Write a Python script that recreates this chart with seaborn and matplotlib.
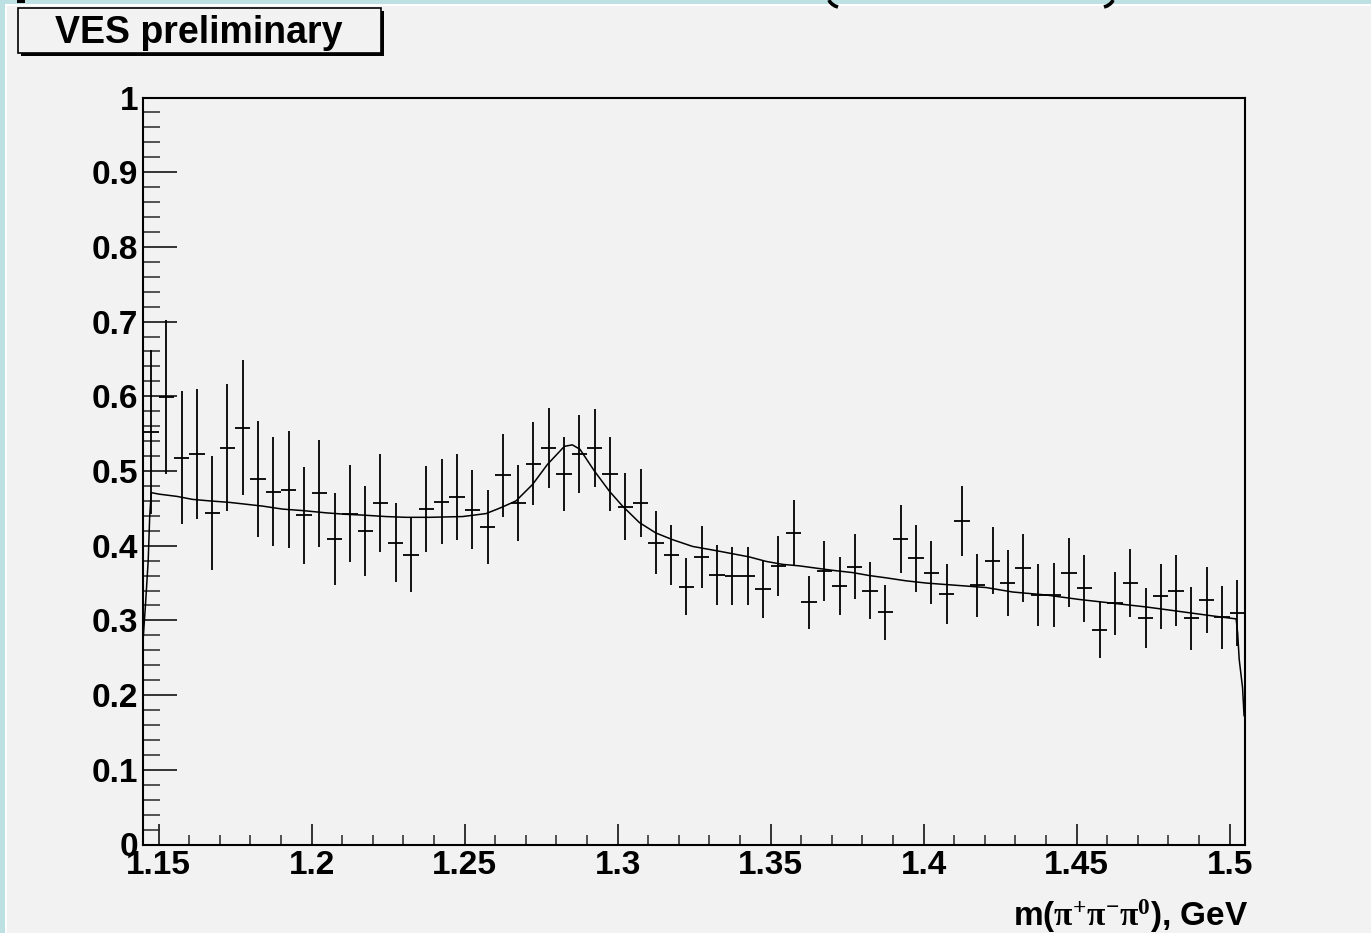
import numpy as np
import pandas as pd
import matplotlib
matplotlib.use("Agg")
import matplotlib.pyplot as plt
import seaborn as sns
from matplotlib.patches import Rectangle
from matplotlib.lines import Line2D
from matplotlib.ticker import MultipleLocator, FuncFormatter

# ---- histogram binning: m(pi+ pi- pi0) in GeV ----
bin_lo, bin_hi, n_bins = 1.145, 1.505, 72

# bin contents (ratio) and their statistical errors
ratio = [
    0.552, 0.599, 0.518, 0.523, 0.444, 0.531, 0.558, 0.489, 0.472, 0.475,
    0.441, 0.470, 0.409, 0.443, 0.420, 0.457, 0.404, 0.388, 0.449, 0.459,
    0.465, 0.448, 0.425, 0.494, 0.457, 0.510, 0.531, 0.496, 0.523, 0.531,
    0.496, 0.452, 0.457, 0.404, 0.388, 0.345, 0.385, 0.361, 0.359, 0.359,
    0.342, 0.373, 0.417, 0.324, 0.366, 0.346, 0.372, 0.340, 0.311, 0.409,
    0.383, 0.364, 0.335, 0.433, 0.347, 0.380, 0.350, 0.370, 0.334, 0.334,
    0.364, 0.343, 0.287, 0.323, 0.350, 0.303, 0.332, 0.340, 0.303, 0.327,
    0.304, 0.310,
]
ratio_err = [
    0.110, 0.103, 0.089, 0.087, 0.076, 0.085, 0.090, 0.078, 0.073, 0.078,
    0.065, 0.072, 0.061, 0.065, 0.060, 0.066, 0.053, 0.050, 0.058, 0.057,
    0.058, 0.053, 0.050, 0.056, 0.051, 0.055, 0.054, 0.050, 0.052, 0.052,
    0.050, 0.045, 0.046, 0.042, 0.040, 0.038, 0.041, 0.040, 0.039, 0.039,
    0.039, 0.040, 0.044, 0.036, 0.040, 0.039, 0.043, 0.038, 0.037, 0.045,
    0.045, 0.042, 0.040, 0.047, 0.042, 0.045, 0.044, 0.045, 0.042, 0.043,
    0.046, 0.045, 0.037, 0.042, 0.045, 0.040, 0.044, 0.047, 0.042, 0.044,
    0.042, 0.044,
]

# fitted function (background + resonance), sampled along the mass axis
fit_mass = [
    1.1448, 1.1457, 1.1466, 1.1471, 1.1476, 1.1502, 1.1560, 1.1611, 1.1666,
    1.1731, 1.1775, 1.1840, 1.1905, 1.1971, 1.2047, 1.2112, 1.2167, 1.2243,
    1.2308, 1.2385, 1.2493, 1.2570, 1.2619, 1.2668, 1.2722, 1.2771, 1.2826,
    1.2852, 1.2877, 1.2924, 1.2973, 1.3016, 1.3071, 1.3125, 1.3180, 1.3245,
    1.3327, 1.3430, 1.3485, 1.3539, 1.3594, 1.3648, 1.3703, 1.3768, 1.3823,
    1.3877, 1.3942, 1.4008, 1.4073, 1.4139, 1.4204, 1.4291, 1.4400, 1.4509,
    1.4618, 1.4727, 1.4836, 1.4944, 1.5021, 1.5026, 1.5031, 1.5042, 1.5047,
]
fit_value = [
    0.266, 0.320, 0.380, 0.440, 0.471, 0.469, 0.466, 0.462, 0.460,
    0.458, 0.456, 0.453, 0.449, 0.447, 0.444, 0.442, 0.441, 0.439,
    0.438, 0.438, 0.439, 0.443, 0.451, 0.460, 0.482, 0.509, 0.533,
    0.535, 0.529, 0.500, 0.473, 0.453, 0.431, 0.417, 0.408, 0.399,
    0.393, 0.385, 0.379, 0.375, 0.373, 0.370, 0.367, 0.364, 0.360,
    0.357, 0.353, 0.350, 0.348, 0.346, 0.344, 0.338, 0.334, 0.328,
    0.323, 0.318, 0.312, 0.306, 0.302, 0.283, 0.248, 0.210, 0.172,
]

x_major = [1.15, 1.2, 1.25, 1.3, 1.35, 1.4, 1.45, 1.5]
y_major = [0, 0.1, 0.2, 0.3, 0.4, 0.5, 0.6, 0.7, 0.8, 0.9, 1.0]

edges = np.linspace(bin_lo, bin_hi, n_bins + 1)
centers = 0.5 * (edges[:-1] + edges[1:])
half_width = 0.5 * (edges[1] - edges[0])

data = pd.DataFrame({"mass": centers, "ratio": ratio, "err": ratio_err})
fit = pd.DataFrame({"mass": fit_mass, "value": fit_value})

# ---- style ----
sns.set_theme(style="ticks")
plt.rcParams["font.family"] = ["Liberation Sans", "DejaVu Sans"]
plt.rcParams["font.weight"] = "bold"
plt.rcParams["mathtext.fontset"] = "custom"
plt.rcParams["mathtext.rm"] = "Liberation Serif"
plt.rcParams["mathtext.bf"] = "Liberation Sans:bold"
plt.rcParams["mathtext.it"] = "Liberation Serif"

W, H = 1371, 933
page = "#bde0e2"
panel = "#f2f2f2"

fig = plt.figure(figsize=(W / 100, H / 100), dpi=100, facecolor=page)


def px(x, y):
    """Pixel position (from the top-left corner) to figure fraction."""
    return x / W, 1 - y / H


# canvas panel with a light bevel on the top and left
fig.patches.append(Rectangle((5 / W, 0), 1, 1 - 4 / H, transform=fig.transFigure,
                             facecolor="white", edgecolor="none", zorder=-20))
fig.patches.append(Rectangle((7 / W, 0), 1, 1 - 6 / H, transform=fig.transFigure,
                             facecolor=panel, edgecolor="none", zorder=-19))

ax = fig.add_axes([143.3 / W, 1 - 844.5 / H, (1245 - 143.3) / W, (844.5 - 97.5) / H])
ax.set_facecolor(panel)

# data points with bin-width horizontal bars
ax.errorbar(data["mass"], data["ratio"], yerr=data["err"], xerr=half_width,
            fmt="none", ecolor="black", elinewidth=1.3, capsize=0, zorder=3)

# fit curve
sns.lineplot(data=fit, x="mass", y="value", ax=ax, color="black",
             linewidth=1.1, estimator=None, sort=False, zorder=4)

ax.set_xlim(bin_lo, bin_hi)
ax.set_ylim(0, 1)
ax.set_xlabel("")
ax.set_ylabel("")

ax.xaxis.set_major_locator(plt.FixedLocator(x_major))
ax.xaxis.set_minor_locator(MultipleLocator(0.01))
ax.yaxis.set_major_locator(plt.FixedLocator(y_major))
ax.yaxis.set_minor_locator(MultipleLocator(0.02))
ax.xaxis.set_major_formatter(FuncFormatter(lambda v, p: f"{v:g}"))
ax.yaxis.set_major_formatter(FuncFormatter(lambda v, p: f"{v:g}"))

for s in ax.spines.values():
    s.set_visible(True)
    s.set_color("black")
    s.set_linewidth(1.5)

ax.tick_params(axis="x", which="major", direction="in", length=15, width=1.1,
               labelsize=24, pad=4, colors="black", top=False)
ax.tick_params(axis="x", which="minor", direction="in", length=7.2, width=1.1,
               top=False)
ax.tick_params(axis="y", which="major", direction="in", length=24.5, width=1.1,
               labelsize=24, pad=3.5, colors="black", right=False)
ax.tick_params(axis="y", which="minor", direction="in", length=12.2, width=1.1,
               right=False)
for lab in ax.get_xticklabels() + ax.get_yticklabels():
    lab.set_fontweight("bold")

# axis title
fig.text(1248 / W, 1 - 926 / H,
         r"m($\mathrm{\pi^{+}\pi^{-}\pi^{0}}$), GeV",
         ha="right", va="baseline", fontsize=24, fontweight="bold", color="black")

# "VES preliminary" label box with shadow
fig.patches.append(Rectangle((21 / W, 1 - 56 / H), 363 / W, 45 / H,
                             transform=fig.transFigure, facecolor="black",
                             edgecolor="none", zorder=5))
fig.patches.append(Rectangle((18 / W, 1 - 53 / H), 363 / W, 45 / H,
                             transform=fig.transFigure, facecolor=panel,
                             edgecolor="black", linewidth=1.2, zorder=6))
fig.text(199 / W, 1 - 43 / H, "VES preliminary", ha="center", va="baseline",
         fontsize=27, fontweight="bold", color="black", zorder=7)

# lower edge of the page heading running off the top
fig.patches.append(Rectangle((17 / W, 1 - 3 / H), 8 / W, 3 / H,
                             transform=fig.transFigure, facecolor="black",
                             edgecolor="none", zorder=8))
left_paren = [px(829, 0), px(830, 2), px(832, 4), px(835, 6), px(838, 7)]
right_paren = [px(1113, 0), px(1112, 2), px(1110, 4), px(1107, 6), px(1104, 7)]
for stroke in (left_paren, right_paren):
    xs, ys = zip(*stroke)
    fig.add_artist(Line2D(xs, ys, transform=fig.transFigure, color="black",
                          linewidth=2.6, solid_capstyle="butt"))

fig.savefig("out.png", dpi=100, facecolor=page)
